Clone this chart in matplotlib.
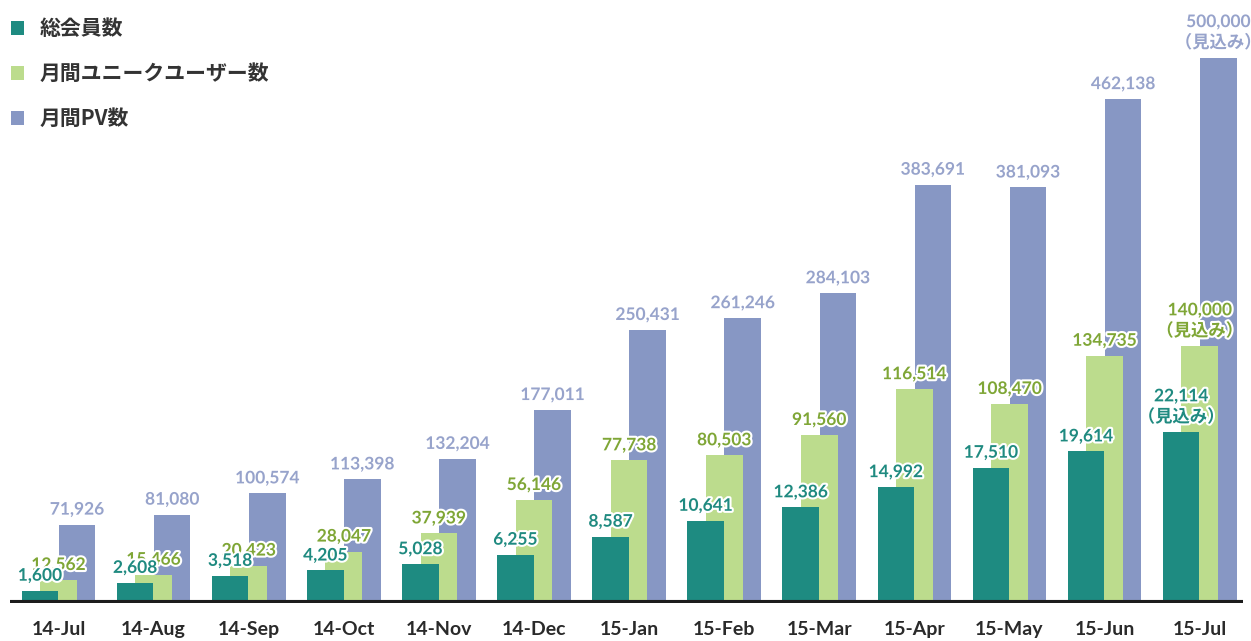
import numpy as np
import matplotlib
matplotlib.use("Agg")
import matplotlib.pyplot as plt
import matplotlib.patheffects as pe

plt.rcParams["font.family"] = ["Lato", "Noto Sans CJK JP", "DejaVu Sans"]

# --- data -------------------------------------------------------------------
months = ["14-Jul", "14-Aug", "14-Sep", "14-Oct", "14-Nov", "14-Dec",
          "15-Jan", "15-Feb", "15-Mar", "15-Apr", "15-May", "15-Jun", "15-Jul"]
members = [1600, 2608, 3518, 4205, 5028, 6255,
           8587, 10641, 12386, 14992, 17510, 19614, 22114]
uu = [12562, 15466, 20423, 28047, 37939, 56146,
      77738, 80503, 91560, 116514, 108470, 134735, 140000]
pv = [71926, 81080, 100574, 113398, 132204, 177011,
      250431, 261246, 284103, 383691, 381093, 462138, 500000]
series_names = ["総会員数", "月間ユニークユーザー数", "月間PV数"]
forecast_note = "（見込み）"   # last month is a forecast

# --- style ------------------------------------------------------------------
C_MEM, C_UU, C_PV = "#1e8b81", "#bcdc8d", "#8797c4"
T_MEM, T_UU, T_PV = "#1f8a80", "#7fa636", "#97a3cb"
W = 1251, 641
BASE_PX = 603                     # baseline, px from top
X0_PX, STEP_PX = 58.5, 95.1       # first group centre, group spacing
OFF, WIDTH = 0.195, 0.385

fig = plt.figure(figsize=(W[0] / 100, W[1] / 100), dpi=100)
rect = [0, (W[1] - BASE_PX) / W[1], 1, BASE_PX / W[1]]

# each series has its own (hidden) scale, as in the original graphic
ax_pv = fig.add_axes(rect)
ax_uu = ax_pv.twinx()
ax_mem = ax_pv.twinx()

x = np.arange(len(months))
xlim = (-X0_PX / STEP_PX, (W[0] - X0_PX) / STEP_PX)

b_pv = ax_pv.bar(x + OFF, pv, WIDTH, color=C_PV)
b_uu = ax_uu.bar(x, uu, WIDTH, color=C_UU)
b_mem = ax_mem.bar(x - OFF, members, WIDTH, color=C_MEM)

ax_pv.set_ylim(0, 553000)
ax_uu.set_ylim(0, 328500)
ax_mem.set_ylim(0, 78000)

halo = [pe.withStroke(linewidth=3, foreground="white")]
last = len(months) - 1
for ax, bars, vals, col in [(ax_pv, b_pv, pv, T_PV),
                            (ax_uu, b_uu, uu, T_UU),
                            (ax_mem, b_mem, members, T_MEM)]:
    labels = [f"{v:,}" for v in vals]
    labels[last] = f"{vals[last]:,}\n{forecast_note}"
    ax.bar_label(bars, labels=labels, padding=5, color=col,
                 fontsize=12.5, fontweight="bold", linespacing=1.3,
                 path_effects=halo)

for ax in (ax_pv, ax_uu, ax_mem):
    ax.set_xlim(*xlim)
    for s in ax.spines.values():
        s.set_visible(False)
    ax.set_yticks([])
    ax.patch.set_visible(False)

ax_pv.set_xticks(x, months)
ax_pv.tick_params(axis="x", length=0, pad=13, labelsize=14,
                  labelcolor="#2a2a2a")
for t in ax_pv.get_xticklabels():
    t.set_fontweight("bold")

ax_mem.axhline(0, xmin=10 / W[0], xmax=1243 / W[0], color="#1c1c1c",
               lw=4.4, zorder=5, solid_capstyle="butt")

leg = ax_mem.legend([b_mem, b_uu, b_pv], series_names,
                    loc="upper left", bbox_to_anchor=(0.0, 1 - 7 / W[1]),
                    bbox_transform=fig.transFigure, frameon=False,
                    handlelength=0.6, handleheight=0.6, handletextpad=0.75,
                    labelspacing=1.15, borderaxespad=0.15,
                    prop={"family": ["Noto Sans CJK JP", "DejaVu Sans"],
                          "size": 15, "weight": "bold"})
for t in leg.get_texts():
    t.set_color("#333333")

fig.savefig("out.png", dpi=100, facecolor="white")
